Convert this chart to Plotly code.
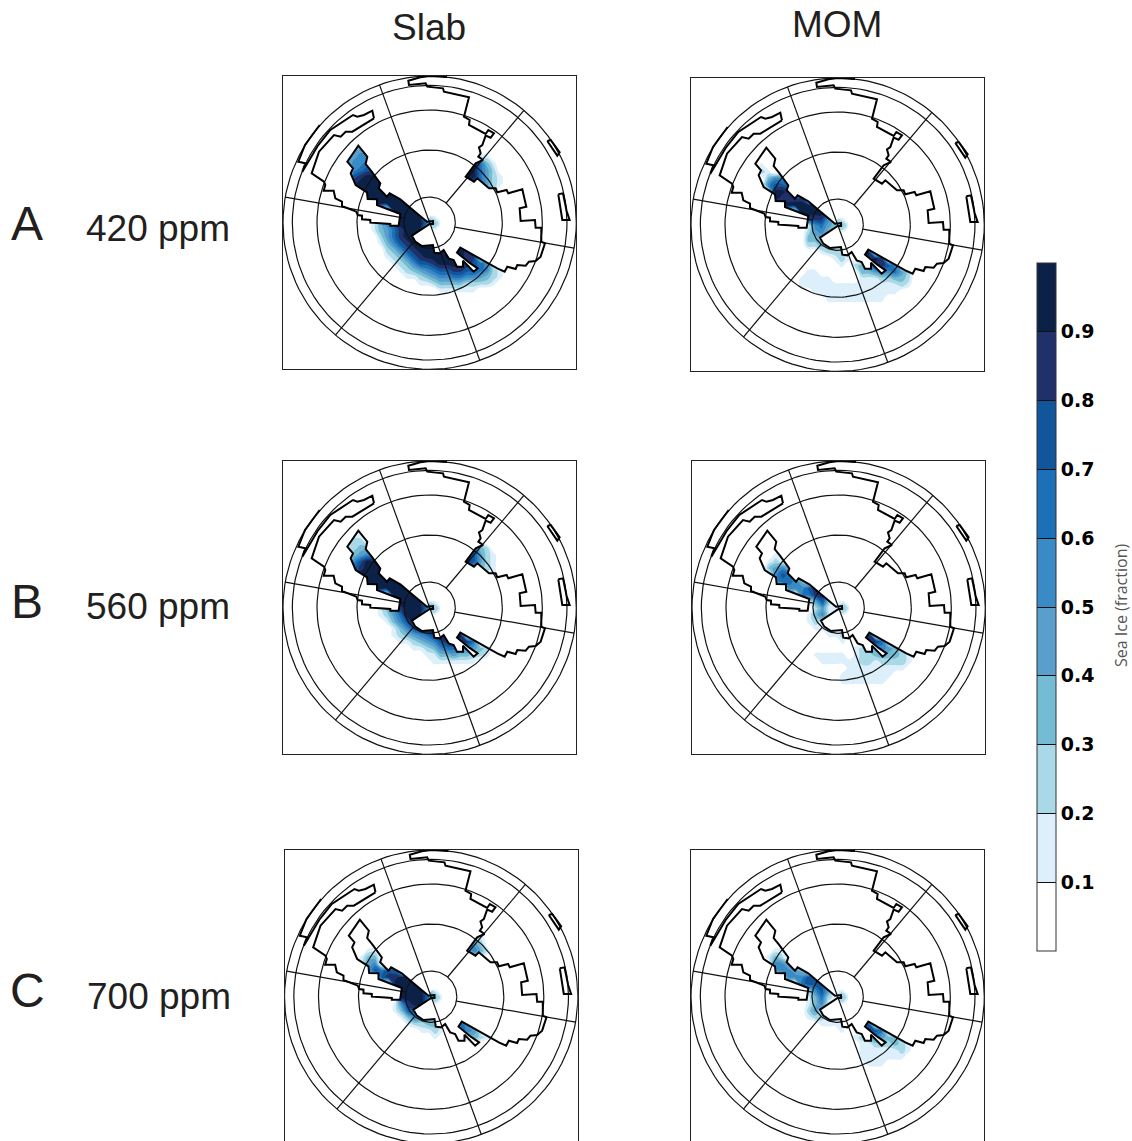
import numpy as np
import plotly.graph_objects as go

W, H = 1132, 1141

# ---- map units: outer circle radius 440 about (448, 458), y grows downward
ring_radii = [77, 218, 338, 412, 440]
spoke_angles = [110, 50, -10, -70, 230, 170]
spoke_starts = [0, 77, 77, 0, 77, 77]

coast_main_x = [281,216,196,181,161,116,94,131,135,130,160,165,185,185,228,232,245,245,270,270,300,330,330,355,360,290,290,262,260,226,211,218,201,234,261,256,272,300,295,320,328,360,388,440,458,458,448,395,405,425,458,462,478,490,505,520,530,548,548,580,592,567,530,540,651,673,681,706,711,736,746,766,781,794,783,783,766,764,721,718,738,726,684,679,651,646,626,591,581,556,586,608,594,601,596,606,616,631,641,624,616,566,568,551,566,491,488,441,436,386,384,420,448,500]
coast_main_y = [145,185,185,200,195,245,310,335,345,362,362,385,395,408,425,435,437,448,450,458,460,462,467,467,432,405,388,387,367,345,310,295,275,227,260,282,302,340,355,380,370,388,412,455,453,462,462,497,515,528,525,548,550,540,565,570,590,590,572,605,595,578,548,533,595,605,590,597,585,587,575,573,560,520,515,473,473,450,453,415,410,358,370,360,367,355,355,325,335,320,280,270,260,250,232,225,197,203,190,180,192,165,150,140,82,65,55,50,40,45,32,22,18,21]
coast_west_x = [281,276,251,231,218,196,150,112,84,66,75,54,74,118]
coast_west_y = [145,122,135,140,135,150,180,228,275,305,280,275,225,165]
island_a_x = [801,811,838,831,801]
island_a_y = [213,210,247,257,213]
island_b_x = [834,848,859,868,846,834]
island_b_y = [373,370,423,450,450,373]

land_west_x = [234,201,218,211,226,260,262,290,290,360,355,330,330,300,270,270,245,245,232,228,100,100]
land_west_y = [227,275,295,310,345,367,387,388,405,432,467,467,462,460,458,450,448,437,435,425,400,200]
land_north_x = [234,300,450,551,568,566,616,606,596,601,594,608,586,556,581,500,480,450,440,388,360,328,320,295,300,272,256,261]
land_north_y = [227,150,120,140,150,165,195,225,232,250,260,270,280,320,335,400,435,438,455,412,388,370,380,355,340,302,282,260]
land_south_x = [480,500,581,591,626,646,651,679,684,726,800,800,781,766,746,736,711,706,681,673,651,540,530,567,592,580,548,548,530,520,505,490,478,462,458,425,405,395,448,462,480]
land_south_y = [435,400,335,325,355,355,367,360,370,358,450,560,560,573,575,587,585,597,590,605,595,533,548,578,595,605,572,590,590,570,565,540,550,548,525,528,515,497,466,480,480]

# ---- sea-ice fraction, tenths per digit (0 = none, a = just under 0.1); columns x = 180..700, rows y = 220..720, step 20
grid_x = list(range(180, 701, 20))
grid_y = list(range(220, 721, 20))

ice_slab_420 = {
 240:"00344", 260:"03455 00000 00000 00000 01100", 280:"03556 60000 00000 00000 96310",
 300:"00567 70000 00000 00009 96420", 320:"00789 99000 00000 00069 96421", 340:"00899 99000 00000 00005 76421",
 360:"00099 99900 00000 00000 00320", 380:"00009 99999 90000", 400:"00000 99999 99000",
 420:"00000 00099 99990", 440:"00000 00009 99921", 460:"00000 13579 99963 10000",
 480:"00000 13468 99901", 500:"00000 02468 99999", 520:"00000 01357 89999",
 540:"00000 00235 78999 99998", 560:"00000 00123 57899 99998 80000", 580:"00000 00012 35778 99998 76500",
 600:"00000 00001 23456 77887 76521", 620:"00000 00000 11234 55665 54321", 640:"00000 00000 00112 33332 22210",
 660:"00000 00000 00000 11111 10000"}
ice_mom_420 = {
 280:"00100", 300:"00210", 320:"00035 50000", 340:"00057 76000", 360:"00009 98000", 380:"00009 88880",
 400:"00000 99999 80000", 420:"00000 00099 99800", 440:"00000 00008 88521", 460:"00000 00001 56433 10000",
 480:"00000 00002 45301", 500:"00000 00003 33000", 520:"00000 00002 23210",
 540:"00000 00000 01222 00990", 560:"00000 00000 00012 10089 80000", 580:"00000 00000 00001 02358 87500",
 600:"00000 00001 10000 00334 55642", 620:"00000 00011 11100 00111 22332", 640:"00000 00011 11111 11111 11121",
 660:"00000 00000 11111 11111 11100", 680:"00000 00000 00111 11111 10000", 700:"00000 00000 00aaa aaaaa a0000"}
ice_slab_560 = {
 240:"00110", 260:"01221 00000 00000 00000 01000", 280:"01233 00000 00000 00000 73200",
 300:"00345 50000 00000 00008 74210", 320:"00579 90000 00000 00058 74210", 340:"00689 99000 00000 00003 43210",
 360:"00099 99900 00000 00000 00110", 380:"00009 99999 90000", 400:"00000 99999 99000",
 420:"00000 00099 99990", 440:"00000 00009 99921", 460:"00000 01358 99963 10000",
 480:"00000 01246 99901", 500:"00000 00135 79999", 520:"00000 00013 57899",
 540:"00000 00012 34568 99990", 560:"00000 00001 12345 78888 60000", 580:"00000 00000 01123 56655 43200",
 600:"00000 00000 00011 33433 22100", 620:"00000 00000 00001 11111 10000"}
ice_mom_560 = {
 300:"00001", 320:"00012 10000", 340:"00034 53000", 360:"00005 76000", 380:"00005 66530",
 400:"00000 05557 80000", 420:"00000 00066 88300", 440:"00000 00001 47211", 460:"00000 00000 24113 10000",
 480:"00000 00001 35101", 500:"00000 00001 21000", 520:"00000 00000 11100",
 540:"00000 00000 00112 00880", 560:"00000 00000 00001 00088 60000", 580:"00000 00000 00000 01234 54310",
 600:"00000 00000 11111 01223 33321", 620:"00000 00000 01111 11221 22221", 640:"00000 00000 00000 11111 11110",
 660:"00000 00000 00001 11111 11000", 680:"00000 00000 00001 11111 10000"}
ice_slab_700 = {
 280:"00000 00000 00000 00000 21000", 300:"00000 00000 00000 00005 42000",
 320:"00001 10000 00000 00054 53100", 340:"00013 30000 00000 00001 21000", 360:"00014 50000", 380:"00004 76770",
 400:"00000 07889 90000", 420:"00000 00099 99800", 440:"00000 00009 99931", 460:"00000 00009 99963 10000",
 480:"00000 00015 89901", 500:"00000 00013 77000", 520:"00000 00001 35430",
 540:"00000 00000 12233 00764", 560:"00000 00000 00112 10065 40000", 580:"00000 00000 00001 00003 32100"}
ice_mom_700 = {
 320:"00001 10000", 340:"00013 20000", 360:"00005 53000", 380:"00004 55430",
 400:"00000 05557 70000", 420:"00000 00067 77300", 440:"00000 00002 57411", 460:"00000 00001 36213 10000",
 480:"00000 00001 35101", 500:"00000 00002 42000", 520:"00000 00001 22110",
 540:"00000 00000 01111 00870", 560:"00000 00000 00001 00087 60000", 580:"00000 00000 00000 01235 43310",
 600:"00000 00000 00000 00112 22321", 620:"00000 00000 00000 00111 11121", 640:"00000 00000 00000 00111 11110",
 660:"00000 00000 00000 00011 10000"}

level_colors = ["#FFFFFF","#DCEFFB","#A9D9E6","#74BCD3","#5A9FCB","#3A8AC6","#1B70B8","#11569B","#20306A","#0C2148"]
colorbar_ticks = [0.1,0.2,0.3,0.4,0.5,0.6,0.7,0.8,0.9]

# grid, frame left, right, top, bottom (pixels)
panels = [
 (ice_slab_420, 283, 576.3, 76, 369.3),
 (ice_mom_420, 691, 984.3, 78, 371.3),
 (ice_slab_560, 283, 576.3, 461, 754.3),
 (ice_mom_560, 692, 985.3, 461, 754.3),
 (ice_slab_700, 284.5, 577.8, 850, 1141),
 (ice_mom_700, 691, 984.3, 850, 1141),
]
row_labels = [("A","420 ppm",223,228,84),("B","560 ppm",601,606,84),("C","700 ppm",991,996,85)]

def cell(c):
    if c == "0":
        return 0
    if c == "a":
        return 0.05
    return (int(c) + 0.5) / 10

def grid_to_z(rows):
    z = []
    for y in grid_y:
        s = rows.get(y, "").replace(" ", "").ljust(len(grid_x), "0")
        z.append([cell(c) for c in s])
    return z

scale = []
for i, c in enumerate(level_colors):
    scale += [[i/10, c], [(i+1)/10, c]]

fig = go.Figure()
layout = {}
for n, (rows, l, r, t, b) in enumerate(panels, 1):
    sfx = "" if n == 1 else str(n)
    ax = dict(xaxis="x"+sfx, yaxis="y"+sfx)
    layout["xaxis"+sfx] = dict(domain=[l/W, r/W], range=[8, 888], showticklabels=False, ticks="",
                               showgrid=False, zeroline=False, showline=True, mirror=True, linecolor="#222", linewidth=1,
                               anchor="y"+sfx)
    layout["yaxis"+sfx] = dict(domain=[1-b/H, 1-t/H], range=[18+(b-t)*3, 18], showticklabels=False, ticks="",
                               showgrid=False, zeroline=False, showline=True, mirror=True, linecolor="#222", linewidth=1,
                               anchor="x"+sfx)
    fig.add_trace(go.Contour(x=grid_x, y=grid_y, z=grid_to_z(rows), zmin=0, zmax=1, zauto=False,
        autocontour=False, contours=dict(start=0.1, end=0.9, size=0.1, coloring="fill", showlines=False),
        line=dict(width=0), colorscale=scale, showscale=(n == 1), hoverinfo="skip",
        colorbar=dict(x=1037/W, xanchor="left", y=1-263/H, yanchor="top", lenmode="pixels", len=688,
                      thicknessmode="pixels", thickness=19, xpad=0, ypad=0, outlinecolor="#333", outlinewidth=1,
                      tickmode="array", tickvals=colorbar_ticks, ticktext=[f"{v:.1f}" for v in colorbar_ticks],
                      ticks="inside", ticklen=19, tickcolor="#111", tickwidth=1,
                      tickfont=dict(family="DejaVu Sans", size=19, color="#000", weight=700)), **ax))
    for lx, ly in [(land_west_x, land_west_y), (land_north_x, land_north_y), (land_south_x, land_south_y)]:
        fig.add_trace(go.Scatter(x=lx, y=ly, mode="lines", fill="toself", fillcolor="#FFFFFF",
                                 line=dict(width=0), hoverinfo="skip", **ax))
    th = np.radians(np.arange(0, 361, 3))
    for rad in ring_radii:
        fig.add_trace(go.Scatter(x=448+rad*np.cos(th), y=458-rad*np.sin(th), mode="lines",
                                 line=dict(color="#111", width=1.2), hoverinfo="skip", **ax))
    for ang, r0 in zip(spoke_angles, spoke_starts):
        a = np.radians(ang)
        fig.add_trace(go.Scatter(x=[448+r0*np.cos(a), 448+440*np.cos(a)], y=[458-r0*np.sin(a), 458-440*np.sin(a)],
                                 mode="lines", line=dict(color="#111", width=1.2), hoverinfo="skip", **ax))
    for cx, cy in [(coast_main_x, coast_main_y), (coast_west_x, coast_west_y), (island_a_x, island_a_y), (island_b_x, island_b_y)]:
        fig.add_trace(go.Scatter(x=cx, y=cy, mode="lines", line=dict(color="#000", width=2), hoverinfo="skip", **ax))

def note(text, x, y, size, anchor="center", color="#231F20", family="Liberation Sans", angle=0):
    return dict(text=text, x=x/W, y=1-y/H, xref="paper", yref="paper", showarrow=False, xanchor=anchor, yanchor="middle",
                font=dict(family=family, size=size, color=color), textangle=angle)

ann = [note("Slab", 429, 27, 37), note("MOM", 837, 24, 37),
       note("Sea Ice (fraction)", 1121, 606, 16, color="#555", family="Open Sans", angle=-90)]
for letter, txt, y1, y2, x2 in row_labels:
    ann.append(note(letter, 27, y1, 48))
    ann.append(note(txt, x2, y2, 37, anchor="left"))

fig.update_layout(width=W, height=H, margin=dict(l=0, r=0, t=0, b=0), paper_bgcolor="white", plot_bgcolor="white",
                  showlegend=False, annotations=ann, **layout)
fig.write_html("out.html", config=dict(displayModeBar=False),
               post_script="document.body.style.margin='0';document.body.style.overflow='hidden';")
